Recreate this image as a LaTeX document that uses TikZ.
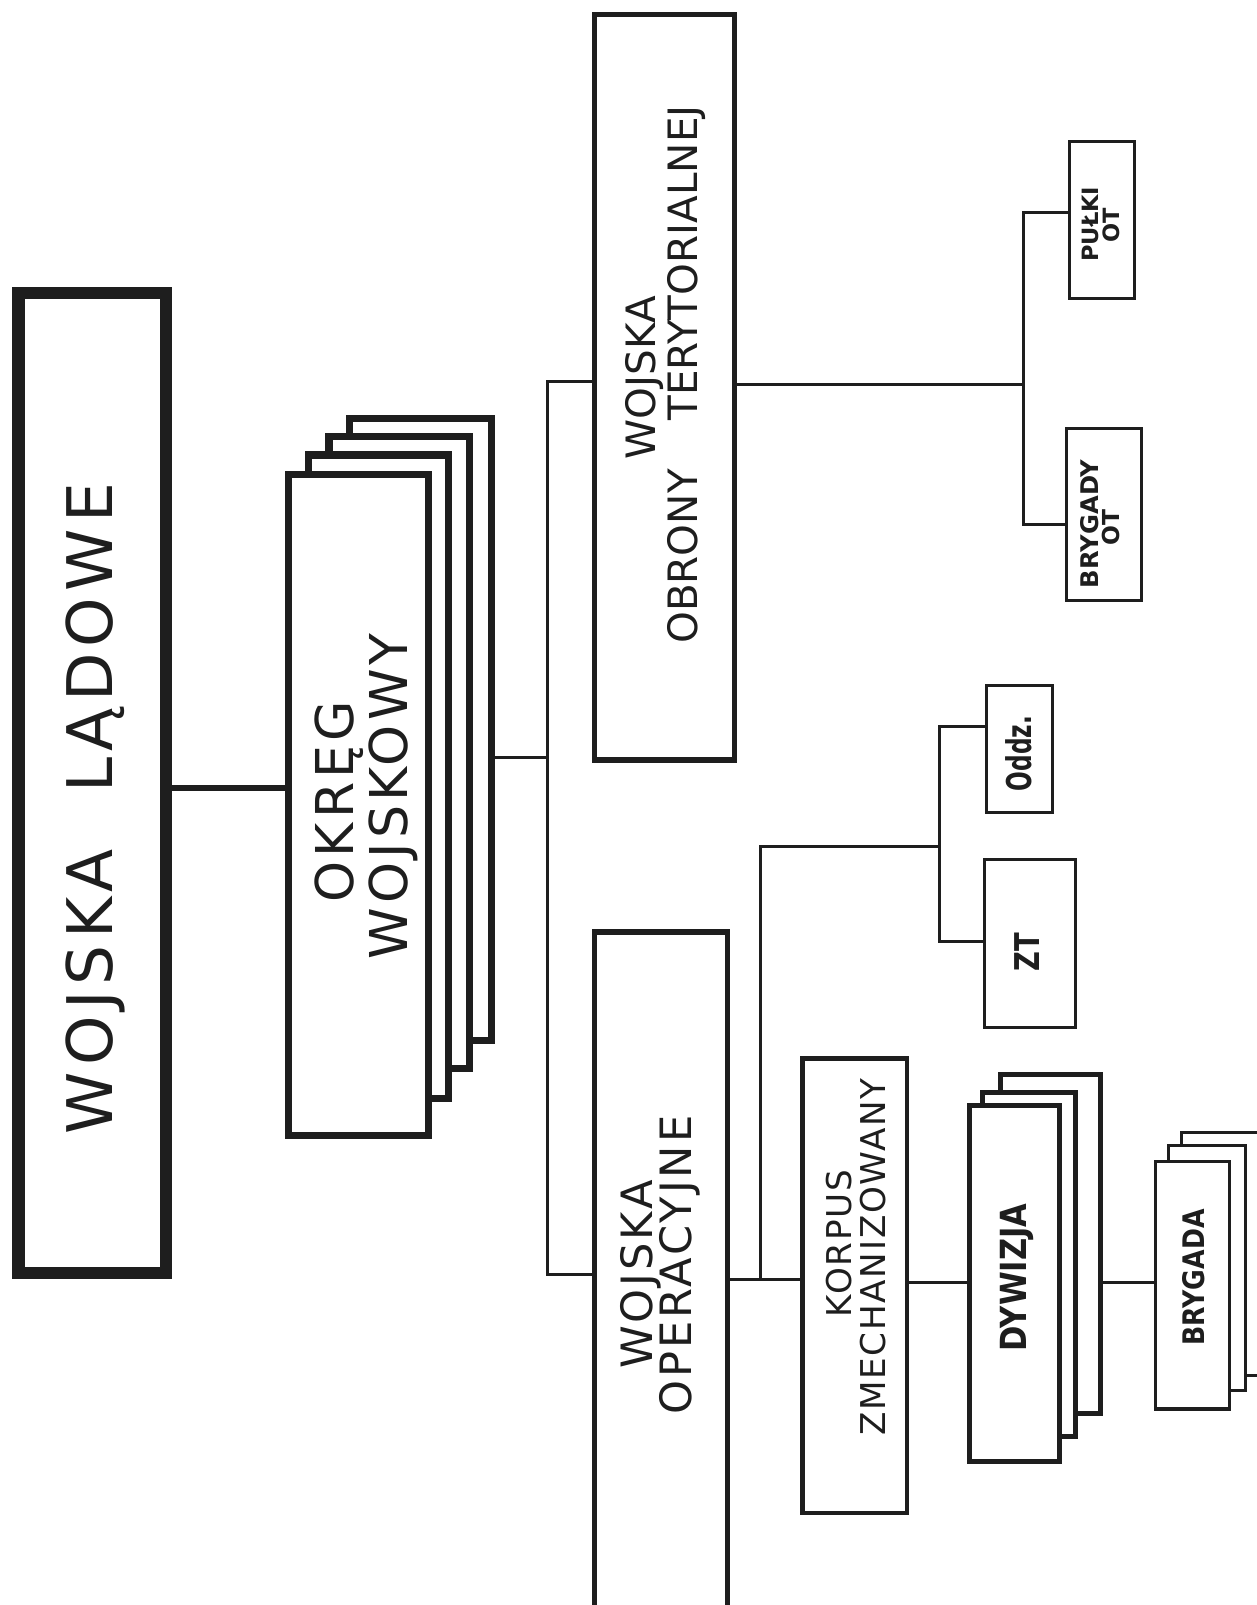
\documentclass[tikz,border=0pt]{standalone}
\usepackage{fontspec}
\setmainfont{DejaVu Sans}
\newfontfamily\lsW[LetterSpace=10]{DejaVu Sans}
\newfontfamily\lsA[LetterSpace=8]{DejaVu Sans}
\newfontfamily\lsB[LetterSpace=7]{DejaVu Sans}
\newfontfamily\lsC[LetterSpace=5]{DejaVu Sans}
\newfontfamily\cndA[FakeStretch=0.85]{DejaVu Sans}
\newfontfamily\cndB[FakeStretch=0.68]{DejaVu Sans}
\newfontfamily\cndC[FakeStretch=0.8]{DejaVu Sans}
\usetikzlibrary{fit}
\definecolor{ink}{HTML}{1E1E1E}
\tikzset{
  bx/.style={draw=ink, fill=white, inner sep=0pt},
  wbig/.style={bx, line width=6.8pt},
  wstack/.style={bx, line width=4pt},
  wmid/.style={bx, line width=2.9pt},
  wkz/.style={bx, line width=2.5pt},
  wdyw/.style={bx, line width=2.8pt},
  wsmall/.style={bx, line width=1.7pt},
  conn/.style={draw=ink, line width=1.6pt},
  wide/.style={draw=ink, line width=3.4pt},
  lbl/.style={rotate=90, anchor=base, inner sep=0pt, text=ink},
}
\begin{document}
\begin{tikzpicture}[x=0.02cm, y=-0.02cm]
\useasboundingbox (0,0) rectangle (1228,1568);
\clip (0,0) rectangle (1228,1568);
\fill[white] (0,0) rectangle (1228,1568);

% Wojska Ladowe
\node[fit={(18,286)(162,1244)}, wbig] (wl) {};
\node[lbl, font=\lsW\fontsize{35}{35}\selectfont] (wlt) at (110,790) {WOJSKA\hspace{0.9em}LĄDOWE};

% Okreg Wojskowy stack
\node[fit={(341.5,408.5)(480.5,1016.5)}, wstack] (ow4) {};
\node[fit={(321.5,426.5)(458.5,1043.5)}, wstack] (ow3) {};
\node[fit={(301.5,444.5)(438.5,1073.5)}, wstack] (ow2) {};
\node[fit={(281.5,463.5)(418.5,1109.5)}, wstack] (ow1) {};
\node[lbl, font=\lsA\fontsize{29}{29}\selectfont] (owt1) at (345,783) {OKRĘG};
\node[lbl, font=\lsA\fontsize{29}{29}\selectfont] (owt2) at (398,778) {WOJSKOWY};

% Wojska Obrony Terytorialnej
\node[fit={(580.5,14.5)(717.5,742.5)}, wmid] (wot) {};
\node[lbl, font=\fontsize{22.5}{22.5}\selectfont] (wott1) at (640,369) {WOJSKA};
\node[lbl, font=\fontsize{22.5}{22.5}\selectfont] (wott2) at (681,366) {OBRONY\hspace{1.2em}TERYTORIALNEJ};

% Wojska Operacyjne
\node[fit={(580.5,910.5)(710.5,1600)}, wmid] (wop) {};
\node[lbl, font=\lsB\fontsize{24}{24}\selectfont] (wopt1) at (637,1245) {WOJSKA};
\node[lbl, font=\lsB\fontsize{24}{24}\selectfont] (wopt2) at (676,1236) {OPERACYJNE};

% Korpus
\node[fit={(784,1034)(886,1478)}, wkz] (kz) {};
\node[lbl, font=\lsC\fontsize{19}{19}\selectfont] (kzt1) at (832,1215) {KORPUS};
\node[lbl, font=\lsC\fontsize{19}{19}\selectfont] (kzt2) at (865,1228) {ZMECHANIZOWANY};

% Dywizja stack
\node[fit={(977,1050)(1075,1381)}, wdyw] (d3) {};
\node[fit={(960,1067)(1051,1403)}, wdyw] (d2) {};
\node[fit={(947,1080)(1035,1428)}, wdyw] (d1) {};
\node[lbl, font=\cndA\bfseries\fontsize{20}{20}\selectfont] (dt) at (1003,1248) {DYWIZJA};

% Brygada stack
\node[fit={(1154.5,1106.5)(1245,1343.5)}, wsmall] (b3) {};
\node[fit={(1141.5,1119.5)(1216.5,1358.5)}, wsmall] (b2) {};
\node[fit={(1128.5,1134.5)(1201.5,1376.5)}, wsmall] (b1) {};
\node[lbl, font=\cndA\bfseries\fontsize{16.5}{16.5}\selectfont] (bt) at (1177,1248) {BRYGADA};

% small boxes
\node[fit={(1044.5,138.5)(1108.5,291.5)}, wsmall] (pulki) {};
\node[lbl, font=\bfseries\fontsize{12.5}{12.5}\selectfont] (pulkit1) at (1073,219) {PUŁKI};
\node[lbl, font=\bfseries\fontsize{12.5}{12.5}\selectfont] (pulkit2) at (1094,220) {OT};
\node[fit={(1041.5,418.5)(1115.5,586.5)}, wsmall] (brot) {};
\node[lbl, font=\bfseries\fontsize{13.5}{13.5}\selectfont] (brott1) at (1073,512) {BRYGADY};
\node[lbl, font=\bfseries\fontsize{13}{13}\selectfont] (brott2) at (1094,515) {OT};
\node[fit={(963.5,669.5)(1028.5,793.5)}, wsmall] (oddz) {};
\node[lbl, font=\cndB\bfseries\fontsize{19}{19}\selectfont] (oddzt) at (1008,736) {Oddz.};
\node[fit={(961.5,839.5)(1050.5,1003.5)}, wsmall] (zt) {};
\node[lbl, font=\cndC\bfseries\fontsize{19}{19}\selectfont] (ztt) at (1016,930) {ZT};

% connectors
\draw[wide] (wl.east |- 0,770) -- (ow1.west |- 0,770);
\coordinate (j1) at (535,740);
\coordinate (jt) at (535,373);
\coordinate (jb) at (535,1245);
\draw[conn] (ow4.east |- j1) -- (j1);
\draw[conn] (wot.west |- jt) -- (jt) -- (jb) -- (wop.west |- jb);
\coordinate (j2) at (1000,376);
\draw[conn] (wot.east |- j2) -- (j2);
\draw[conn] (pulki.west |- 0,208) -| (j2) |- (brot.west |- 0,512);
\coordinate (j3) at (743,1250);
\draw[conn] (wop.east |- j3) -- (kz.west |- j3);
\coordinate (j4) at (918,827);
\draw[conn] (j3) |- (j4);
\draw[conn] (oddz.west |- 0,710) -| (j4) |- (zt.west |- 0,920);
\draw[conn] (kz.east |- 0,1253) -- (d1.west |- 0,1253);
\draw[conn] (d3.east |- 0,1253) -- (b1.west |- 0,1253);
\end{tikzpicture}
\end{document}
